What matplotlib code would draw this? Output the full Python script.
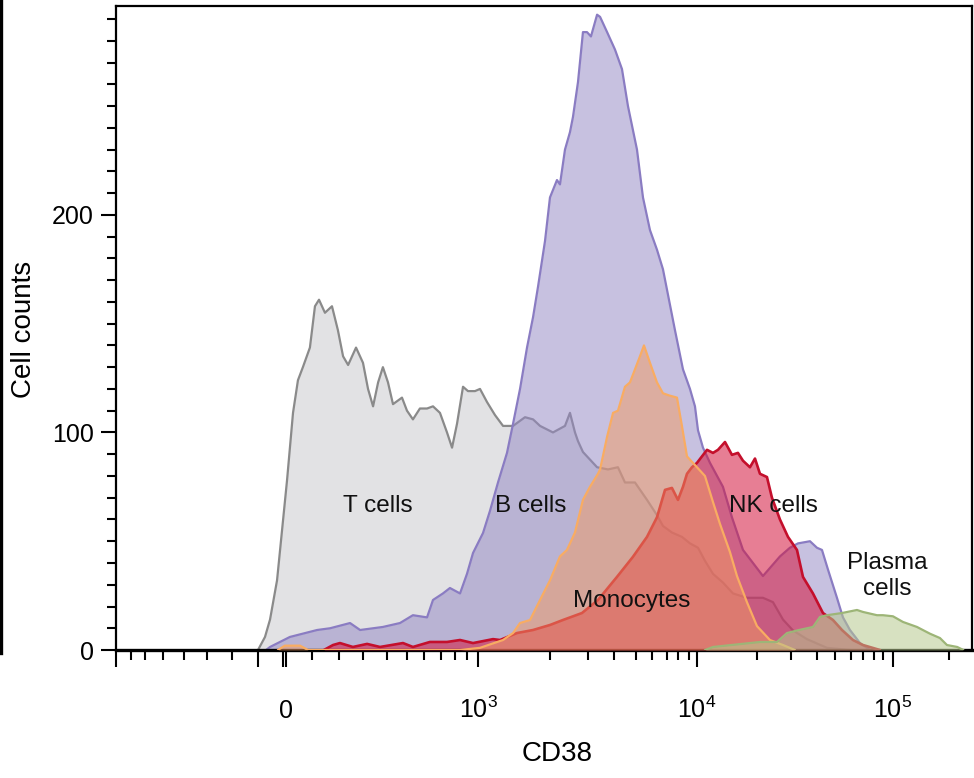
import numpy as np
import matplotlib
matplotlib.use("Agg")
import matplotlib.pyplot as plt
from matplotlib.ticker import FixedLocator, FixedFormatter, NullFormatter
from matplotlib.lines import Line2D

plt.rcParams['font.family'] = ['Liberation Sans', 'DejaVu Sans']
plt.rcParams['mathtext.fontset'] = 'custom'
plt.rcParams['mathtext.rm'] = 'Liberation Sans'
plt.rcParams['mathtext.it'] = 'Liberation Sans:italic'
plt.rcParams['mathtext.bf'] = 'Liberation Sans:bold'

# ---- CD38 histograms (CD38 intensity, cell counts) ----
t_x = [-100, -75, -57, -32, 4, 27, 46, 65, 92, 111, 126, 148, 174, 196, 217,
       238, 271, 300, 321, 342, 363, 383, 405, 430, 475, 500, 535, 576, 618, 653,
       694, 743, 779, 817, 867, 909, 973, 1028, 1125, 1236, 1348, 1487, 1653, 1765,
       1862, 2079, 2395, 2526, 2658, 2737, 2868, 3350, 3770, 4180, 4500, 4955, 5690,
       6333, 6733, 7450, 8360, 9125, 10170, 11330, 12670, 14330, 16000, 18330,
       21760, 24700, 27650, 30770, 36150, 45560, 59400]
t_y = [0, 6, 14, 32, 78, 109, 124, 130, 139, 158, 161, 155, 158, 147, 135,
       131, 139, 132, 120, 112, 123, 130, 123, 113, 116, 110, 106, 111, 111, 112,
       109, 100, 93, 104, 121, 119, 119, 120, 114, 108, 103, 103, 107, 106,
       103, 100, 103, 109, 100, 96, 91, 84, 83, 84, 77, 77, 69,
       62, 57, 54, 52, 49, 47, 41, 35, 31, 26, 24,
       24, 22, 14, 9, 5, 1, 0]

b_x = [-71, -57, 15, 119, 167, 246, 288, 383, 465, 535, 618, 653, 714, 764, 842,
       900, 955, 1070, 1167, 1278, 1403, 1487, 1584, 1681, 1765, 1834, 1931, 2000,
       2184, 2263, 2395, 2526, 2605, 2737, 2868, 2974, 3115, 3350, 3465, 3735, 4045,
       4364, 4636, 5063, 5438, 5875, 6333, 6733, 7727, 8455, 9125, 9750, 10170,
       11000, 12170, 14330, 15830, 17670, 21760, 26760, 29700, 32700, 37315, 40000,
       42780, 46115, 51250, 55000, 59375, 67500, 76360]
b_y = [0, 1.4, 6, 9.2, 10, 12.4, 9.2, 10.6, 12.4, 16, 15, 23, 26, 28.5, 26,
       35, 44.6, 53.8, 64, 77, 90.6, 104, 120, 139, 153, 167, 188, 208,
       216, 214, 230, 238, 245, 261, 284, 284, 282, 292, 291, 284, 276,
       267, 250, 230, 208, 193, 184, 175, 147, 129, 120, 112, 101,
       93, 86, 75, 61, 46, 34, 43, 47, 49, 50, 47,
       46, 37, 24, 15, 9.2, 3.2, 0]

nk_x = [144, 178, 204, 258, 317, 371, 480, 535, 635, 743, 842, 955, 1209, 1306,
        1542, 1765, 2000, 2342, 2842, 3385, 4136, 4860, 5690, 6333, 6870, 7450,
        8000, 8455, 8820, 9375, 10000, 11670, 12670, 13500, 14670, 15830, 16830,
        17670, 18830, 19670, 20880, 22940, 24410, 26760, 29120, 32310, 34620,
        38460, 43330, 48890, 54380, 61670, 70000, 86670]
nk_y = [0, 2.3, 3.2, 1.4, 2.8, 1.4, 3.2, 1.4, 3.7, 3.7, 4.6, 3.2, 5, 4.6,
        7.8, 9.2, 11.5, 13.8, 17, 23, 33.6, 42.8, 52, 61, 73.6, 74.5,
        69, 75, 81, 84, 86, 92, 90.6, 92, 95.6, 89.7, 90.6,
        87, 84, 88, 81, 79.5, 70, 60, 52, 46, 33.6,
        26, 17, 13.8, 9.2, 4.6, 2.3, 0]

mono_x = [-29, -4, 54, 85, 842, 1028, 1348, 1487, 1584, 1723, 1862, 2000, 2263,
          2447, 2658, 2868, 3077, 3385, 3465, 3735, 3965, 4182, 4500, 4727, 4955,
          5250, 5500, 5875, 6333, 6733, 7200, 7910, 8360, 8820, 10000, 11330,
          12670, 13830, 15500, 16670, 18330, 20000, 23820, 27650, 31540]
mono_y = [0, 2, 2, 0, 0, 1, 4.6, 7.8, 12.4, 13.8, 23, 32, 43,
          46, 54, 69, 75, 81, 83, 98, 109, 110, 121, 123, 129,
          135, 140, 132, 123, 118, 117, 116, 103, 89, 84, 80,
          68, 58, 45, 34, 22, 11, 4.6, 2.3, 0]

pc_x = [11330, 12670, 20880, 25880, 28820, 33080, 38460, 41670, 45560, 54380,
        65000, 70000, 83330, 90000, 100000, 117860, 142860, 166070, 183930,
        196430, 222310, 239050]
pc_y = [0, 1.4, 3.7, 3.7, 7.8, 9.2, 10.6, 15.2, 16, 17,
        18.4, 17.5, 16, 16, 15.5, 12.9, 10.6, 7.5, 5.5,
        2.3, 1.4, 0]

# ---- biexponential-style display scale for the CD38 axis ----
scale_values = [-800, -700, -600, -500, -400, -300, -200, -100, 0, 100, 200, 300,
                400, 500, 600, 700, 800, 900, 1000, 2000, 3000, 4000, 5000, 6000,
                7000, 8000, 9000, 10000, 20000, 30000, 40000, 50000, 60000, 70000,
                80000, 90000, 100000, 200000, 262144]
scale_channels = [0, 15, 29, 47, 68, 91, 116, 142, 170, 196, 223, 247,
                  271, 291, 308, 325, 339, 351, 362, 434, 472, 498, 520, 536,
                  551, 562, 573, 581, 641, 675, 701, 719, 735, 747,
                  758, 767, 777, 833, 856]


def to_display(v):
    return np.interp(np.asarray(v, dtype=float), scale_values, scale_channels)


def from_display(c):
    return np.interp(np.asarray(c, dtype=float), scale_channels, scale_values)


major_ticks = [-800, -100, -10, 0, 1000, 10000, 100000]
major_labels = ['', '', '', '0', r'$10^3$', r'$10^4$', r'$10^5$']
minor_ticks = ([-700, -600, -500, -400, -300, -200]
               + [100, 200, 300, 400, 500, 600, 700, 800, 900]
               + [2000, 3000, 4000, 5000, 6000, 7000, 8000, 9000]
               + [20000, 30000, 40000, 50000, 60000, 70000, 80000, 90000]
               + [200000])

fig = plt.figure(figsize=(9.74, 7.78), dpi=100)
ax = fig.add_axes([0.1191, 0.1645, 0.8788, 0.8278])
ax.set_xscale('function', functions=(to_display, from_display))
ax.set_xlim(-800, 262144)
ax.set_ylim(0, 296)


def population(x, y, fill, alpha, edge, lw, z):
    ax.fill_between(x, 0, y, color=fill, alpha=alpha, lw=0, zorder=z)
    ax.plot(x, y, color=edge, lw=lw, zorder=z + 0.1,
            solid_joinstyle='round', solid_capstyle='round')


population(t_x, t_y, '#e2e2e4', 1.0, '#8a8a8a', 1.6, 1)
population(b_x, b_y, '#9488c5', 0.52, '#8a7cc2', 1.6, 2)
population(nk_x, nk_y, '#d4143c', 0.55, '#c40f2c', 1.9, 3)
population(mono_x, mono_y, '#f29a62', 0.5, '#f9ac62', 1.6, 4)
population(pc_x, pc_y, '#b7c98f', 0.55, '#9db577', 1.6, 5)

lab = dict(fontsize=17.5, color='#111111', ha='center', va='center', zorder=10)
ax.text(363, 66, 'T cells', **lab)
ax.text(1737, 66, 'B cells', **lab)
ax.text(4818, 22.5, 'Monocytes', **lab)
ax.text(24700, 66, 'NK cells', **lab)
ax.text(94000, 34, 'Plasma\ncells', linespacing=1.2, **lab)

# axes frame and ticks
for side in ['left', 'top', 'right']:
    ax.spines[side].set_linewidth(1.6)
ax.spines['bottom'].set_linewidth(2.4)

ax.xaxis.set_major_locator(FixedLocator(major_ticks))
ax.xaxis.set_major_formatter(FixedFormatter(major_labels))
ax.xaxis.set_minor_locator(FixedLocator(minor_ticks))
ax.xaxis.set_minor_formatter(NullFormatter())
ax.tick_params(axis='x', which='major', length=12, width=1.5, direction='out',
               pad=37, labelsize=18)
ax.tick_params(axis='x', which='minor', length=7, width=1.5, direction='out')
for t in ax.get_xticklabels():
    t.set_verticalalignment('baseline')

ax.yaxis.set_major_locator(FixedLocator([0, 100, 200]))
ax.yaxis.set_minor_locator(FixedLocator([v for v in range(10, 300, 10) if v % 100]))
ax.tick_params(axis='y', which='major', length=11, width=1.5, direction='out',
               pad=5, labelsize=18)
ax.tick_params(axis='y', which='minor', length=6.5, width=1.5, direction='out')

ax.set_xlabel('CD38', fontsize=20)
ax.xaxis.set_label_coords(0.515, -0.141)
ax.set_ylabel('Cell counts', fontsize=20)
ax.yaxis.set_label_coords(-0.092, 0.497)

# panel divider on the left edge
fig.add_artist(Line2D([0.0015, 0.0015], [1.0, 1 - 653 / 778], lw=2.4,
                      color='black', transform=fig.transFigure))

fig.savefig('out.png', dpi=100)
